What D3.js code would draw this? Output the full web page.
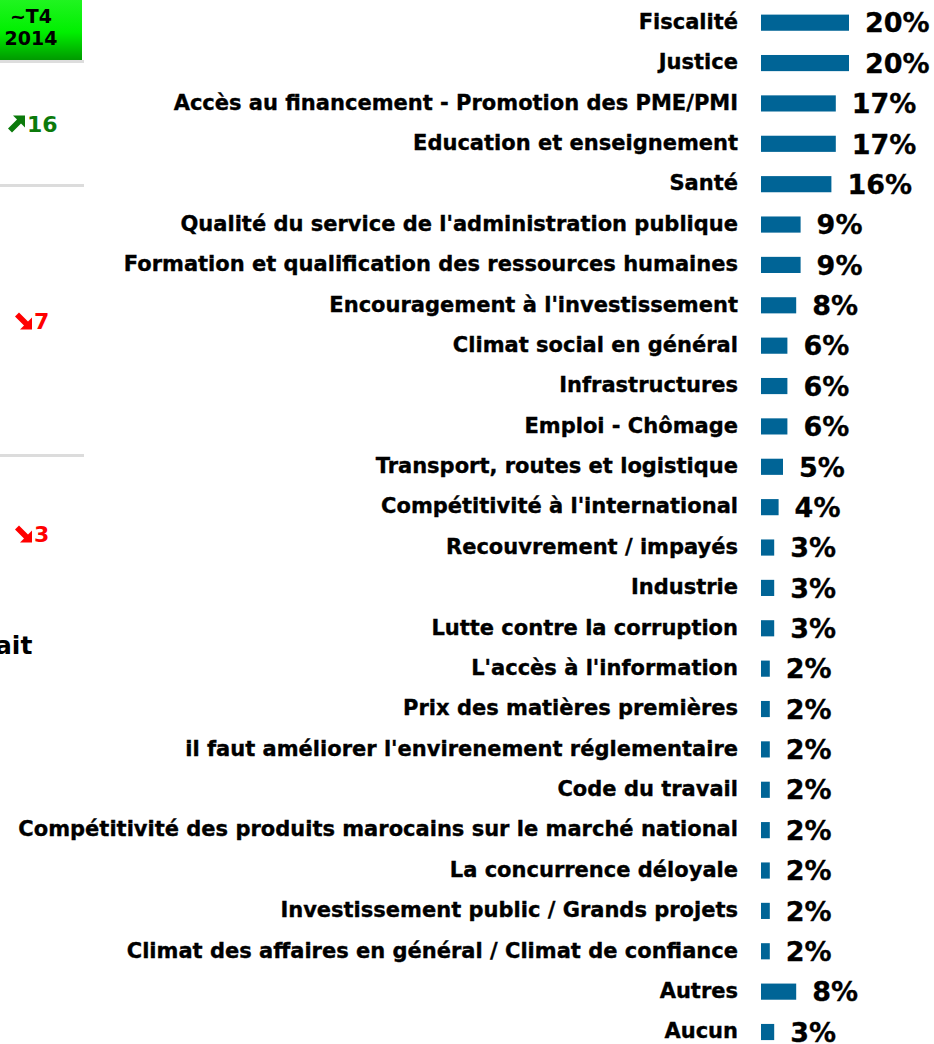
<!DOCTYPE html>
<html>
<head>
<meta charset="utf-8">
<script src="https://cdn.jsdelivr.net/npm/d3@7"></script>
<style>
  html, body { margin: 0; padding: 0; background: #fff; }
  svg { display: block; }
  text { font-family: "DejaVu Sans", Verdana, sans-serif; font-weight: bold; }
</style>
</head>
<body>
<svg id="chart" width="934" height="1044"></svg>
<script>
const categories = [
  "Fiscalité",
  "Justice",
  "Accès au financement - Promotion des PME/PMI",
  "Education et enseignement",
  "Santé",
  "Qualité du service de l'administration publique",
  "Formation et qualification des ressources humaines",
  "Encouragement à l'investissement",
  "Climat social en général",
  "Infrastructures",
  "Emploi - Chômage",
  "Transport, routes et logistique",
  "Compétitivité à l'international",
  "Recouvrement / impayés",
  "Industrie",
  "Lutte contre la corruption",
  "L'accès à l'information",
  "Prix des matières premières",
  "il faut améliorer l'envirenement réglementaire",
  "Code du travail",
  "Compétitivité des produits marocains sur le marché national",
  "La concurrence déloyale",
  "Investissement public / Grands projets",
  "Climat des affaires en général / Climat de confiance",
  "Autres",
  "Aucun"
];
const values = [20, 20, 17, 17, 16, 9, 9, 8, 6, 6, 6, 5, 4, 3, 3, 3, 2, 2, 2, 2, 2, 2, 2, 2, 8, 3];

// fragments of the neighbouring panel, cut off at the left edge
const sideHeader = ["~T4", "2014"];
const sideTrends = [
  { dir: "up", value: "16", color: "#0b7a0b" },
  { dir: "down", value: "7", color: "#ff0000" },
  { dir: "down", value: "3", color: "#ff0000" }
];
const sideWord = "ait";

const svg = d3.select("#chart");

// ---- left fragment ----
const defs = svg.append("defs");
const grad = defs.append("linearGradient")
  .attr("id", "greenGrad").attr("x1", 0).attr("x2", 0).attr("y1", 0).attr("y2", 1);
grad.append("stop").attr("offset", "0%").attr("stop-color", "#22f522");
grad.append("stop").attr("offset", "55%").attr("stop-color", "#00f000");
grad.append("stop").attr("offset", "100%").attr("stop-color", "#009a00");

const side = svg.append("g");
side.append("rect").attr("x", 0).attr("y", 60).attr("width", 84).attr("height", 3).attr("fill", "#dddddd");
side.append("rect").attr("x", -2).attr("y", -2).attr("width", 84).attr("height", 62)
  .attr("fill", "url(#greenGrad)");
side.selectAll(".hdr")
  .data(sideHeader)
  .enter().append("text")
  .attr("x", 31)
  .attr("y", (d, i) => 23 + i * 22)
  .attr("text-anchor", "middle")
  .attr("font-size", 19)
  .attr("fill", "#000")
  .text(d => d);

[185, 455].forEach(y => {
  side.append("rect").attr("x", 0).attr("y", y - 1).attr("width", 84).attr("height", 3).attr("fill", "#dcdcdc");
});

// thick diagonal arrow, drawn in a 17px box
const arrowUp = "M17,0 L17,12 L13,8 L4,17 L0,13 L9,4 L5,0 Z";
const trendY = [124, 321, 534];
const trendX = [8, 15, 15];
const trends = side.selectAll(".trend")
  .data(sideTrends)
  .enter().append("g")
  .attr("transform", (d, i) => `translate(${trendX[i]},${trendY[i] - 8.5})`);

trends.append("path")
  .attr("d", arrowUp)
  .attr("fill", d => d.color)
  .attr("transform", d => d.dir === "down" ? "translate(0,17) scale(1,-1)" : null);

trends.append("text")
  .attr("x", 19)
  .attr("y", 8.5)
  .attr("dy", "0.36em")
  .attr("font-size", 22)
  .attr("fill", d => d.color)
  .text(d => d.value);

side.append("text")
  .attr("x", -5)
  .attr("y", 645)
  .attr("dy", "0.35em")
  .attr("font-size", 25)
  .attr("fill", "#000")
  .text(sideWord);

// ---- bar chart ----
const barX0 = 761;
const x = d3.scaleLinear().domain([0, 20]).range([0, 88]);
const y = d3.scaleBand().domain(categories).range([2.5, 1052.2]).paddingInner(0.6).paddingOuter(0.3);

const rows = svg.append("g").selectAll("g")
  .data(categories.map((c, i) => ({ cat: c, val: values[i] })))
  .enter().append("g");

rows.append("rect")
  .attr("x", barX0)
  .attr("y", d => y(d.cat))
  .attr("width", d => x(d.val))
  .attr("height", y.bandwidth())
  .attr("fill", "#006496");

rows.append("text")
  .attr("x", 738)
  .attr("y", d => y(d.cat) + y.bandwidth() / 2)
  .attr("dy", "0.3em")
  .attr("text-anchor", "end")
  .attr("font-size", 21)
  .attr("fill", "#000")
  .attr("stroke", "#000")
  .attr("stroke-width", 0.35)
  .text(d => d.cat);

rows.append("text")
  .attr("x", d => barX0 + x(d.val) + 16)
  .attr("y", d => y(d.cat) + y.bandwidth() / 2)
  .attr("dy", "0.36em")
  .attr("font-size", 27)
  .attr("fill", "#000")
  .attr("stroke", "#000")
  .attr("stroke-width", 0.3)
  .text(d => d.val + "%");
</script>
</body>
</html>
